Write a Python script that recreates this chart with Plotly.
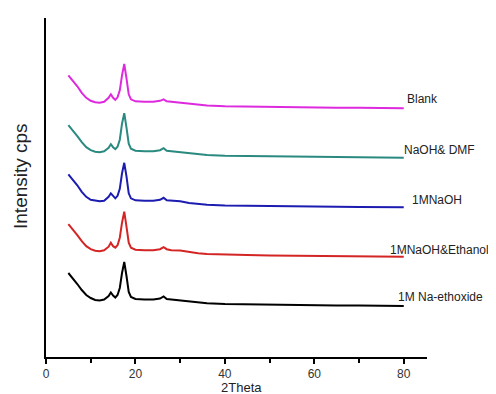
import plotly.graph_objects as go

theta = [5, 6, 7, 8, 9, 10, 11, 12, 13, 14, 14.5, 15, 15.5, 16, 16.5, 17, 17.5, 18, 18.5, 19,
         20, 22, 24, 25.5, 26.3, 27, 28, 30, 32, 34, 36, 40, 45, 50, 55, 60, 65, 70, 75, 80]

na_ethoxide = [33, 28, 22, 16, 11, 8, 6, 5.5, 6.5, 10, 13.5, 10.5, 8.5, 11, 18, 33, 44, 30, 14, 9,
               7, 6.5, 6.5, 7.5, 9.5, 7, 6.5, 6, 4.3, 3.3, 2.7, 2, 1.6, 1.3, 1, 0.8, 0.6, 0.5, 0.3, 0]
naoh_ethanol = [32.5, 27.5, 21.5, 15.5, 10.5, 7.5, 6, 5.5, 6.5, 10, 14, 10.5, 9, 11.5, 19, 34, 45, 30, 14, 9,
                7, 6.5, 6.5, 7.5, 9.5, 7.5, 6.5, 6.2, 4.5, 3.4, 2.8, 2, 1.6, 1.2, 1, 0.8, 0.6, 0.4, 0.3, 0]
naoh_1m = [33, 28, 22, 15.5, 10.5, 7.5, 6.5, 6, 6.5, 10.5, 14, 11, 9, 11.5, 18.5, 34, 44.5, 31, 14, 9,
           7, 6.5, 6.5, 7.5, 9.5, 7, 6.5, 6, 4.2, 3.2, 2.6, 1.9, 1.5, 1.1, 0.9, 0.7, 0.5, 0.4, 0.2, 0]
naoh_dmf = [32.5, 27.5, 21.5, 15.5, 10.5, 7.5, 6, 5.5, 6.5, 10, 13.5, 10.5, 8.5, 11, 18, 34, 44.5, 30, 14, 9,
            7, 6.5, 6.5, 7.5, 9.5, 7, 6.5, 6, 4.3, 3.3, 2.7, 2, 1.6, 1.3, 1, 0.8, 0.6, 0.5, 0.3, 0]
blank = [33, 28, 22, 15.5, 10.5, 7.5, 6, 5.5, 6.5, 10.5, 14, 10.5, 8.5, 11, 18, 33, 44.3, 30, 14, 9,
         7, 6.6, 6.6, 7.5, 9, 7, 6.5, 6, 4.5, 3.5, 2.8, 2, 1.6, 1.3, 1, 0.8, 0.6, 0.5, 0.3, 0]

series_names = ["1M Na-ethoxide", "1MNaOH&Ethanol", "1MNaOH", "NaOH& DMF", "Blank"]
series_values = [na_ethoxide, naoh_ethanol, naoh_1m, naoh_dmf, blank]
stack_offsets = [51, 100.3, 149.7, 199.3, 248.7]
colors = ["#000000", "#d42525", "#1c1cb0", "#2a8a80", "#de2ade"]
label_x = [78.3, 76.4, 81.4, 79.6, 80.3]
label_y = [60, 107, 157, 207, 258]

font_family = "Liberation Sans, Arial, sans-serif"

fig = go.Figure()
for name, vals, off, col in zip(series_names, series_values, stack_offsets, colors):
    fig.add_trace(go.Scatter(x=theta, y=[v + off for v in vals], mode="lines", name=name,
                             line=dict(color=col, width=2), showlegend=False))

for name, lx, ly in zip(series_names, label_x, label_y):
    fig.add_annotation(x=lx, y=ly, xref="x", yref="y", text=name, showarrow=False,
                       xanchor="left", yanchor="middle",
                       font=dict(family=font_family, size=12, color="#222222"))

fig.add_annotation(x=0.514, y=-0.0885, xref="paper", yref="paper", text="2Theta", showarrow=False,
                   xanchor="center", yanchor="middle",
                   font=dict(family=font_family, size=13, color="#222222"))
fig.add_annotation(x=-0.0656, y=0.534, xref="paper", yref="paper", text="Intensity cps", showarrow=False,
                   textangle=-90, xanchor="center", yanchor="middle",
                   font=dict(family=font_family, size=19, color="#222222"))

# page body has an 8px default margin; size the figure so it fills the window exactly
fig.update_layout(
    width=488, height=386,
    margin=dict(l=38, r=69, t=10, b=37),
    paper_bgcolor="white", plot_bgcolor="white",
    showlegend=False,
)
fig.update_xaxes(range=[0, 85.2], showgrid=False, zeroline=False,
                 showline=True, linecolor="black", linewidth=2,
                 tickvals=[0, 20, 40, 60, 80], ticks="outside", ticklen=5, tickwidth=1.5,
                 tickcolor="black",
                 minor=dict(dtick=10, ticks="outside", ticklen=4, tickwidth=1.5, tickcolor="black"),
                 tickfont=dict(family=font_family, size=12, color="#333333"))
fig.update_yaxes(range=[0, 339], showgrid=False, zeroline=False,
                 showline=True, linecolor="black", linewidth=2,
                 showticklabels=False, ticks="")

fig.write_html("out.html")
